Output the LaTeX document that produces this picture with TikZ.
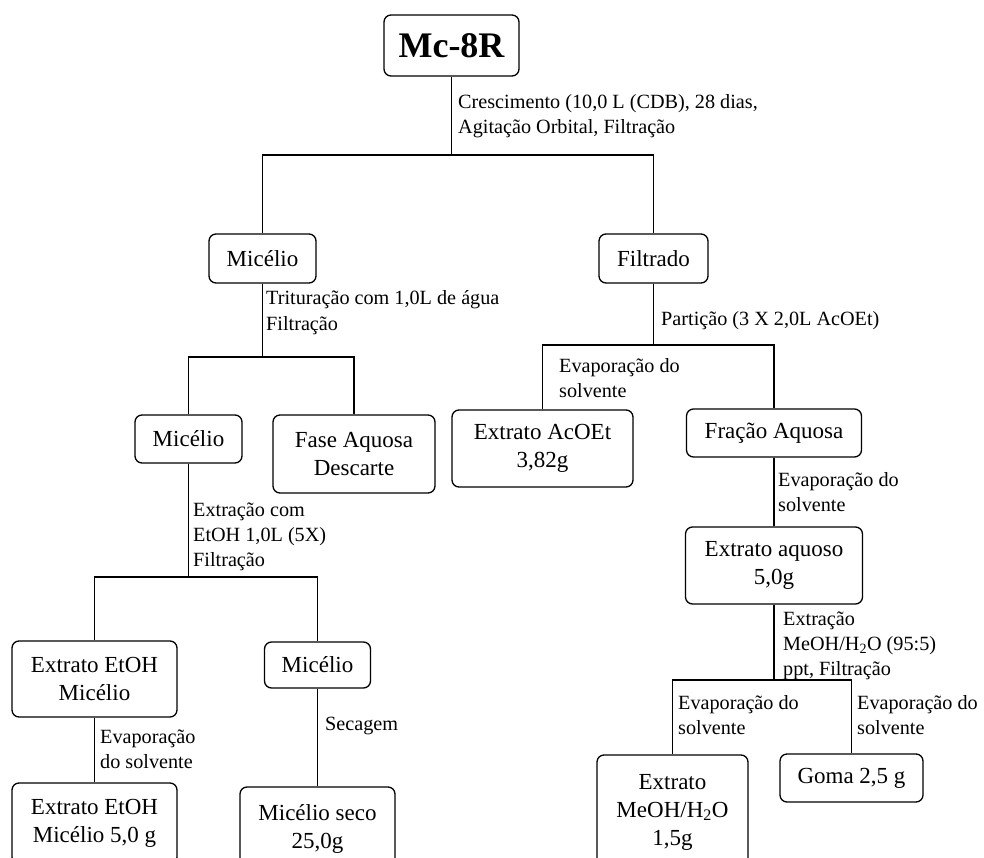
\documentclass[tikz,border=0pt]{standalone}
\usepackage{fontspec}
\setmainfont{Liberation Serif}
\begin{document}
\begin{tikzpicture}[x=1pt,y=-1pt,
  box/.style={draw, line width=1.3pt, rounded corners=7pt, inner sep=0pt,
    align=center, font=\fontsize{23}{28}\selectfont},
  link/.style={line width=1.3pt},
  note/.style={anchor=base west, inner sep=0pt, font=\fontsize{20.2}{25}\selectfont}]
\useasboundingbox (0,0) rectangle (984,858);
\clip (0,0) rectangle (984,858);

% boxes
\node[box, minimum width=135pt, minimum height=61pt] (mc) at (451.5,45.5)
  {\fontsize{36}{40}\selectfont\bfseries Mc-8R};
\node[box, minimum width=107pt, minimum height=49pt] (mic1) at (262.5,258.5) {Micélio};
\node[box, minimum width=109pt, minimum height=49pt] (filt) at (653.5,258.5) {Filtrado};
\node[box, minimum width=107pt, minimum height=48pt] (mic2) at (188.5,439) {Micélio};
\node[box, minimum width=162pt, minimum height=78pt] (fase) at (354,454) {Fase Aquosa\\Descarte};
\node[box, minimum width=181pt, minimum height=77pt] (acoet) at (542.5,448.5) {Extrato AcOEt\\3,82g};
\node[box, minimum width=175pt, minimum height=48pt] (fracao) at (774,433) {Fração Aquosa};
\node[box, minimum width=177pt, minimum height=77pt] (aquoso) at (774,565.5) {Extrato aquoso\\5,0g};
\node[box, minimum width=165pt, minimum height=76pt] (etoh) at (94.5,679) {Extrato EtOH\\Micélio};
\node[box, minimum width=106pt, minimum height=46pt] (mic3) at (317.5,665) {Micélio};
\node[box, minimum width=165pt, minimum height=81pt] (etohmass) at (94.5,823.5) {Extrato EtOH\\Micélio 5,0 g};
\node[box, minimum width=155pt, minimum height=84pt] (seco) at (317.5,829) {Micélio seco\\25,0g};
\node[box, minimum width=151pt, minimum height=114pt] (meoh) at (672.5,812) {Extrato\\MeOH/H\textsubscript{2}O\\1,5g};
\node[box, minimum width=143pt, minimum height=48pt] (goma) at (851.5,778) {Goma 2,5 g};

% branch points
\coordinate (j0) at (451.5,155);
\coordinate (j1) at (262.5,357);
\coordinate (j2) at (653.5,345);
\coordinate (j3) at (188.5,577);
\coordinate (j4) at (774,680);

% connectors
\draw[link] (mc.south) -- (j0);
\draw[link] (mic1.north) |- (j0) -| (filt.north);
\draw[link] (mic1.south) -- (j1);
\draw[link] (mic2.north) |- (j1) -| (fase.north);
\draw[link] (filt.south) -- (j2);
\draw[link] (acoet.north) |- (j2) -| (fracao.north);
\draw[link] (mic2.south) -- (j3);
\draw[link] (etoh.north) |- (j3) -| (mic3.north);
\draw[link] (fracao.south) -- (aquoso.north);
\draw[link] (aquoso.south) -- (j4);
\draw[link] (meoh.north) |- (j4) -| (goma.north);
\draw[link] (etoh.south) -- (etohmass.north);
\draw[link] (mic3.south) -- (seco.north);

% step labels
\node[note] (t0) at (458,109) {\begin{tabular}[t]{@{}l@{}}Crescimento (10,0 L (CDB), 28 dias,\\Agitação Orbital, Filtração\end{tabular}};
\node[note] (t1) at (266,305) {\begin{tabular}[t]{@{}l@{}}Trituração com 1,0L de água\\Filtração\end{tabular}};
\node[note] (t2) at (661,325) {Partição (3 X 2,0L AcOEt)};
\node[note] (t3) at (559,372) {\begin{tabular}[t]{@{}l@{}}Evaporação do\\solvente\end{tabular}};
\node[note] (t4) at (193,516) {\begin{tabular}[t]{@{}l@{}}Extração com\\EtOH 1,0L (5X)\\Filtração\end{tabular}};
\node[note] (t5) at (778,486) {\begin{tabular}[t]{@{}l@{}}Evaporação do\\solvente\end{tabular}};
\node[note] (t6) at (783,625) {\begin{tabular}[t]{@{}l@{}}Extração\\MeOH/H\textsubscript{2}O (95:5)\\ppt, Filtração\end{tabular}};
\node[note] (t7) at (678,709) {\begin{tabular}[t]{@{}l@{}}Evaporação do\\solvente\end{tabular}};
\node[note] (t8) at (857,709) {\begin{tabular}[t]{@{}l@{}}Evaporação do\\solvente\end{tabular}};
\node[note] (t9) at (100,743) {\begin{tabular}[t]{@{}l@{}}Evaporação\\do solvente\end{tabular}};
\node[note] (t10) at (325,730) {Secagem};
\end{tikzpicture}
\end{document}
